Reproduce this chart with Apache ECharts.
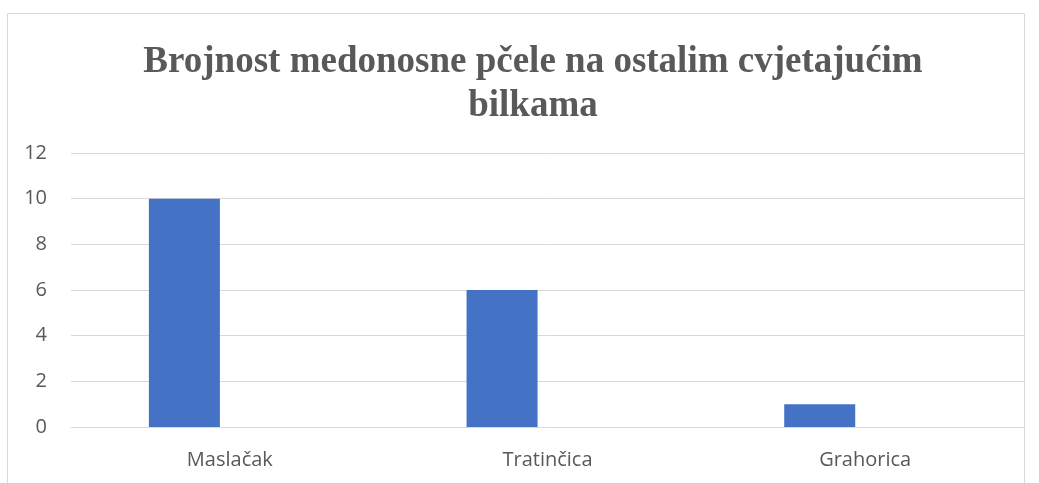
<!DOCTYPE html>
<html lang="hr">
<head>
    <meta charset="UTF-8">
    <title>Brojnost medonosne pčele</title>
    <style>
        html, body { margin: 0; padding: 0; background: #fff; }
        #chart { width: 1039px; height: 483px; }
    </style>
</head>
<body>
<div id="chart"></div>
<script src="https://cdn.jsdelivr.net/npm/echarts@6/dist/echarts.min.js"></script>
<script>
    // podaci
    let biljke = ['Maslačak', 'Tratinčica', 'Grahorica'];
    let brojnost = [10, 6, 1];
    let prazno = [null, null, null]; // drugi (prazan) niz, kao u originalnom grafu

    let chart = echarts.init(document.getElementById('chart'));
    let siva = '#595959';
    let option = {
        animation: false,
        title: {
            text: 'Brojnost medonosne pčele na ostalim cvjetajućim\nbilkama',
            left: 528,
            top: 35,
            textAlign: 'center',
            textStyle: {
                fontFamily: 'Liberation Serif',
                fontWeight: 'bold',
                fontSize: 37,
                lineHeight: 44,
                color: siva
            }
        },
        graphic: [{
            type: 'rect',
            shape: { x: 7.5, y: 13.5, width: 1017, height: 480 },
            style: { fill: 'none', stroke: '#d9d9d9', lineWidth: 1 },
            silent: true
        }],
        grid: { left: 71, right: 15, top: 153, bottom: 56 },
        xAxis: {
            type: 'category',
            data: biljke,
            axisLine: { lineStyle: { color: '#d9d9d9' } },
            axisTick: { show: false },
            axisLabel: {
                color: siva,
                fontSize: 20,
                fontFamily: 'Open Sans',
                margin: 23
            }
        },
        yAxis: {
            type: 'value',
            min: 0,
            max: 12,
            interval: 2,
            axisLine: { show: false },
            axisTick: { show: false },
            splitLine: { lineStyle: { color: '#d9d9d9' } },
            axisLabel: {
                color: siva,
                fontSize: 20,
                fontFamily: 'Open Sans',
                margin: 24
            }
        },
        series: [
            {
                name: 'Brojnost',
                type: 'bar',
                data: brojnost,
                barWidth: 71,
                barGap: '28%',
                itemStyle: { color: '#4472c4' }
            },
            {
                name: 'Niz 2',
                type: 'bar',
                data: prazno,
                barWidth: 71,
                itemStyle: { color: '#ed7d31' }
            }
        ]
    };
    chart.setOption(option);
</script>
</body>
</html>
